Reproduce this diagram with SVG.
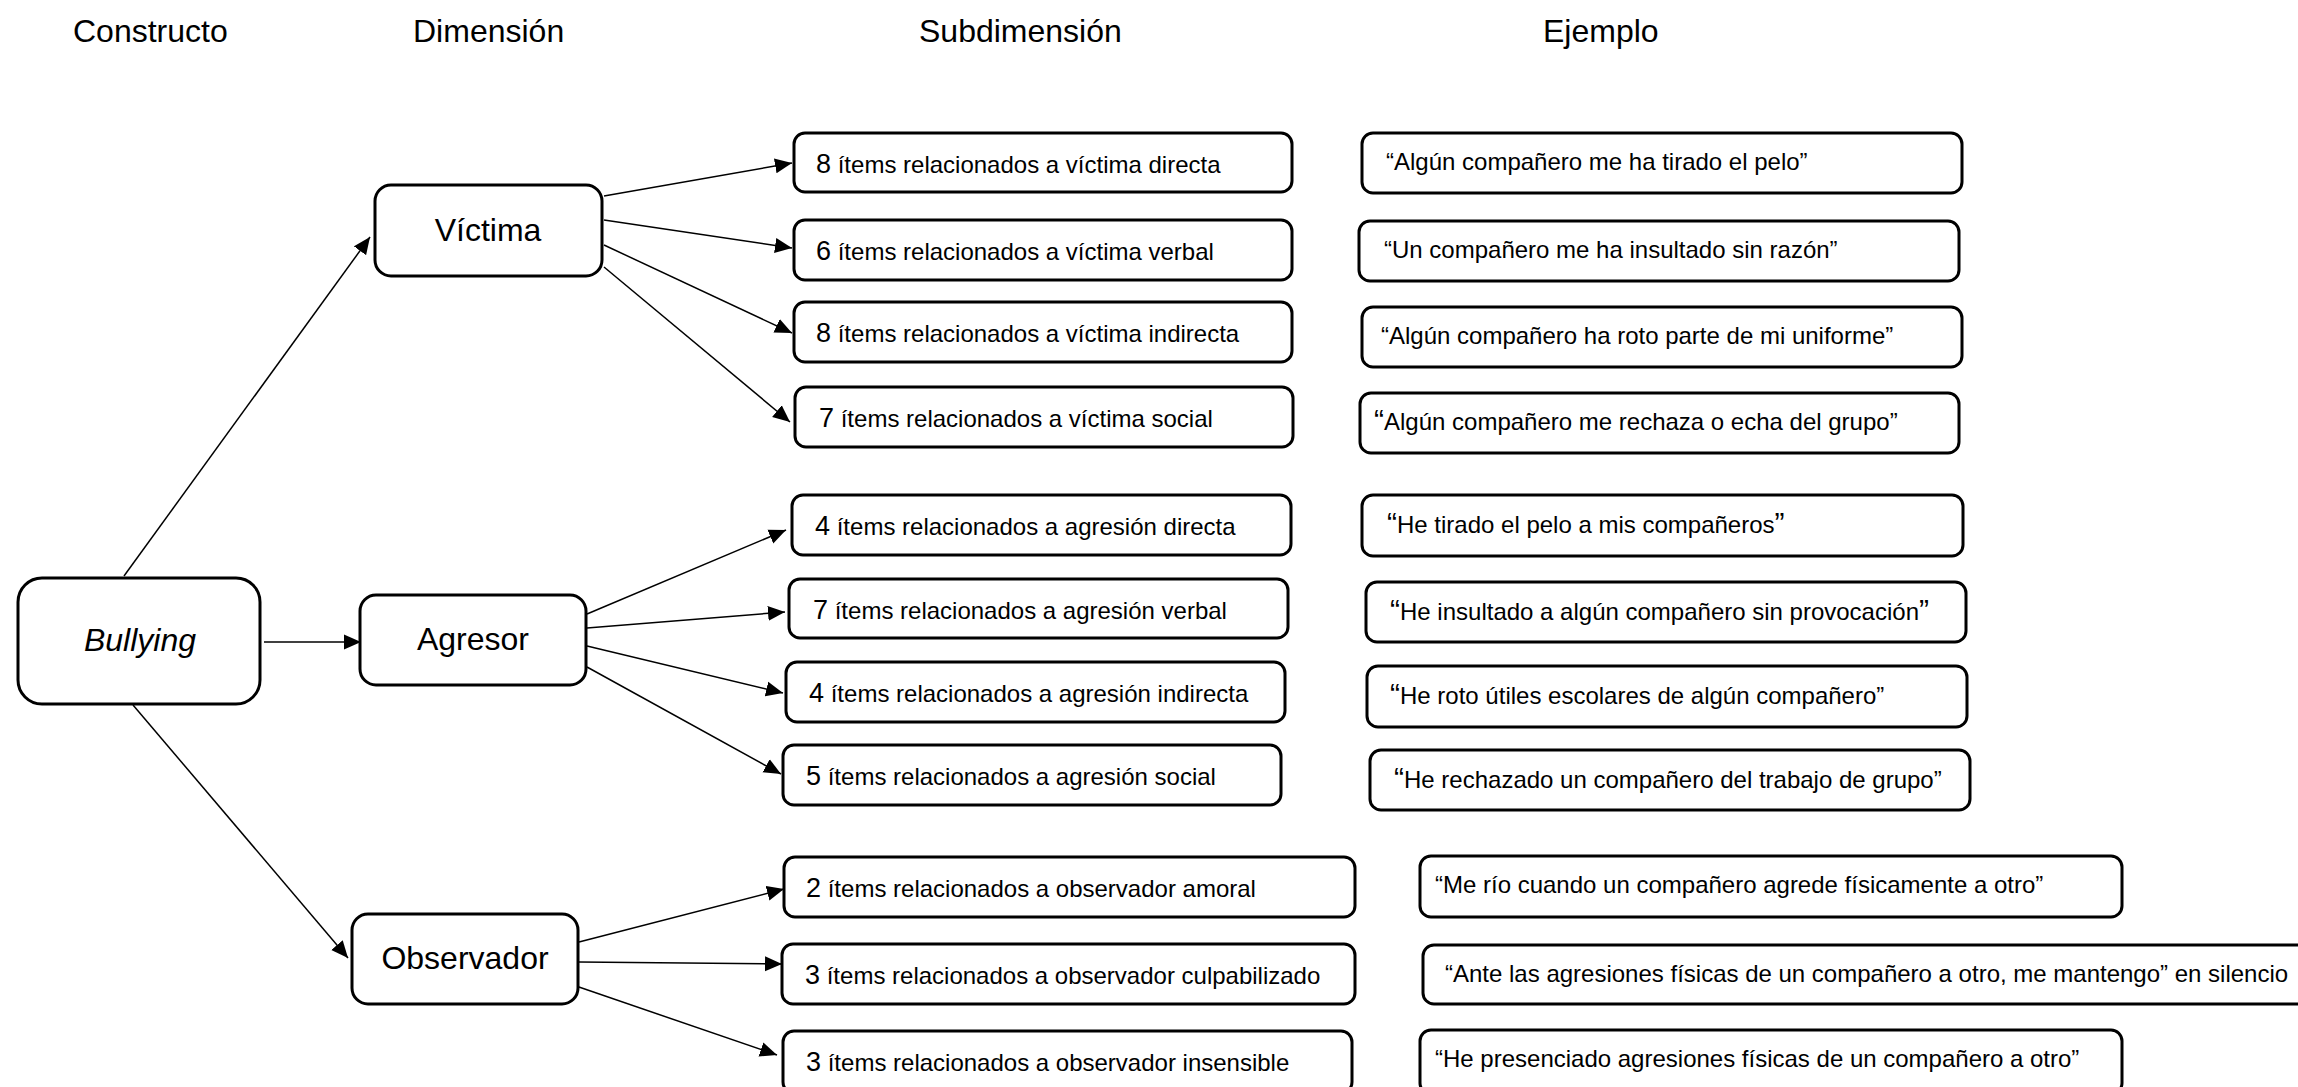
<svg xmlns="http://www.w3.org/2000/svg" width="2298" height="1087" viewBox="0 0 2298 1087">
<defs>
<marker id="ah" markerUnits="userSpaceOnUse" markerWidth="18" markerHeight="16" refX="17" refY="8" orient="auto">
<path d="M0,0.5 L17,8 L0,15.5 z" fill="#000"/>
</marker>
<style>
text{font-family:"Liberation Sans",Arial,sans-serif;fill:#000}
.hdr{font-size:32px}
.nd{font-size:32px;text-anchor:middle}
.box{fill:#fff;stroke:#000;stroke-width:3}
.sub{font-size:24px}
.num{font-size:27px}
.ex{font-size:24px}
.bq{font-size:30px}
.con line{stroke:#000;stroke-width:1.5;marker-end:url(#ah)}
</style>
</defs>
<rect width="2298" height="1087" fill="#fff"/>

<g id="headers">
<text class="hdr" x="73" y="42">Constructo</text>
<text class="hdr" x="413" y="42">Dimensión</text>
<text class="hdr" x="919" y="42">Subdimensión</text>
<text class="hdr" x="1543" y="42">Ejemplo</text>
</g>

<g class="con" id="connectors">
<line x1="124" y1="576" x2="370" y2="237"/>
<line x1="264" y1="642" x2="361" y2="642"/>
<line x1="133" y1="705" x2="348" y2="958"/>
<line x1="604" y1="196" x2="792" y2="163"/>
<line x1="604" y1="220" x2="792" y2="248"/>
<line x1="604" y1="245" x2="792" y2="333"/>
<line x1="604" y1="267" x2="790" y2="422"/>
<line x1="587" y1="614" x2="786" y2="530"/>
<line x1="587" y1="628" x2="785" y2="612"/>
<line x1="587" y1="646" x2="783" y2="693"/>
<line x1="587" y1="667" x2="781" y2="774"/>
<line x1="579" y1="942" x2="784" y2="889"/>
<line x1="579" y1="962" x2="782" y2="964"/>
<line x1="576" y1="986" x2="777" y2="1055"/>
</g>

<g id="n-bullying"><rect class="box" x="18" y="578" width="242" height="126" rx="24"/><text class="nd" x="140" y="651" font-style="italic">Bullying</text></g>
<g id="n-victima"><rect class="box" x="375" y="185" width="227" height="91" rx="16"/><text class="nd" x="488" y="241">Víctima</text></g>
<g id="n-agresor"><rect class="box" x="360" y="595" width="226" height="90" rx="16"/><text class="nd" x="473" y="650">Agresor</text></g>
<g id="n-observador"><rect class="box" x="352" y="914" width="226" height="90" rx="16"/><text class="nd" x="465" y="969">Observador</text></g>

<g id="s1"><rect class="box" x="794" y="133" width="498" height="59" rx="11"/><text class="sub" x="816" y="173"><tspan class="num">8</tspan> ítems relacionados a víctima directa</text></g>
<g id="s2"><rect class="box" x="794" y="220" width="498" height="60" rx="11"/><text class="sub" x="816" y="260"><tspan class="num">6</tspan> ítems relacionados a víctima verbal</text></g>
<g id="s3"><rect class="box" x="794" y="302" width="498" height="60" rx="11"/><text class="sub" x="816" y="342"><tspan class="num">8</tspan> ítems relacionados a víctima indirecta</text></g>
<g id="s4"><rect class="box" x="795" y="387" width="498" height="60" rx="11"/><text class="sub" x="819" y="427"><tspan class="num">7</tspan> ítems relacionados a víctima social</text></g>
<g id="s5"><rect class="box" x="792" y="495" width="499" height="60" rx="11"/><text class="sub" x="815" y="535"><tspan class="num">4</tspan> ítems relacionados a agresión directa</text></g>
<g id="s6"><rect class="box" x="789" y="579" width="499" height="59" rx="11"/><text class="sub" x="813" y="619"><tspan class="num">7</tspan> ítems relacionados a agresión verbal</text></g>
<g id="s7"><rect class="box" x="786" y="662" width="499" height="60" rx="11"/><text class="sub" x="809" y="702"><tspan class="num">4</tspan> ítems relacionados a agresión indirecta</text></g>
<g id="s8"><rect class="box" x="783" y="745" width="498" height="60" rx="11"/><text class="sub" x="806" y="785"><tspan class="num">5</tspan> ítems relacionados a agresión social</text></g>
<g id="s9"><rect class="box" x="784" y="857" width="571" height="60" rx="11"/><text class="sub" x="806" y="897"><tspan class="num">2</tspan> ítems relacionados a observador amoral</text></g>
<g id="s10"><rect class="box" x="782" y="944" width="573" height="60" rx="11"/><text class="sub" x="805" y="984"><tspan class="num">3</tspan> ítems relacionados a observador culpabilizado</text></g>
<g id="s11"><rect class="box" x="783" y="1031" width="569" height="62" rx="11"/><text class="sub" x="806" y="1071"><tspan class="num">3</tspan> ítems relacionados a observador insensible</text></g>

<g id="e1"><rect class="box" x="1362" y="133" width="600" height="60" rx="11"/><text class="ex" x="1386" y="170">“Algún compañero me ha tirado el pelo”</text></g>
<g id="e2"><rect class="box" x="1359" y="221" width="600" height="60" rx="11"/><text class="ex" x="1384" y="258">“Un compañero me ha insultado sin razón”</text></g>
<g id="e3"><rect class="box" x="1362" y="307" width="600" height="60" rx="11"/><text class="ex" x="1381" y="344">“Algún compañero ha roto parte de mi uniforme”</text></g>
<g id="e4"><rect class="box" x="1360" y="393" width="599" height="60" rx="11"/><text class="ex" x="1374" y="430"><tspan class="bq">“</tspan>Algún compañero me rechaza o echa del grupo”</text></g>
<g id="e5"><rect class="box" x="1362" y="495" width="601" height="61" rx="11"/><text class="ex" x="1387" y="533"><tspan class="bq">“</tspan>He tirado el pelo a mis compañeros<tspan class="bq">”</tspan></text></g>
<g id="e6"><rect class="box" x="1366" y="582" width="600" height="60" rx="11"/><text class="ex" x="1390" y="620"><tspan class="bq">“</tspan>He insultado a algún compañero sin provocación<tspan class="bq">”</tspan></text></g>
<g id="e7"><rect class="box" x="1367" y="666" width="600" height="61" rx="11"/><text class="ex" x="1390" y="704"><tspan class="bq">“</tspan>He roto útiles escolares de algún compañero”</text></g>
<g id="e8"><rect class="box" x="1370" y="750" width="600" height="60" rx="11"/><text class="ex" x="1394" y="788"><tspan class="bq">“</tspan>He rechazado un compañero del trabajo de grupo”</text></g>
<g id="e9"><rect class="box" x="1420" y="856" width="702" height="61" rx="11"/><text class="ex" x="1435" y="893">“Me río cuando un compañero agrede físicamente a otro”</text></g>
<g id="e10"><rect class="box" x="1423" y="945" width="900" height="59" rx="11"/><text class="ex" x="1445" y="982">“Ante las agresiones físicas de un compañero a otro, me mantengo” en silencio</text></g>
<g id="e11"><rect class="box" x="1420" y="1030" width="702" height="64" rx="11"/><text class="ex" x="1435" y="1067">“He presenciado agresiones físicas de un compañero a otro”</text></g>
</svg>
